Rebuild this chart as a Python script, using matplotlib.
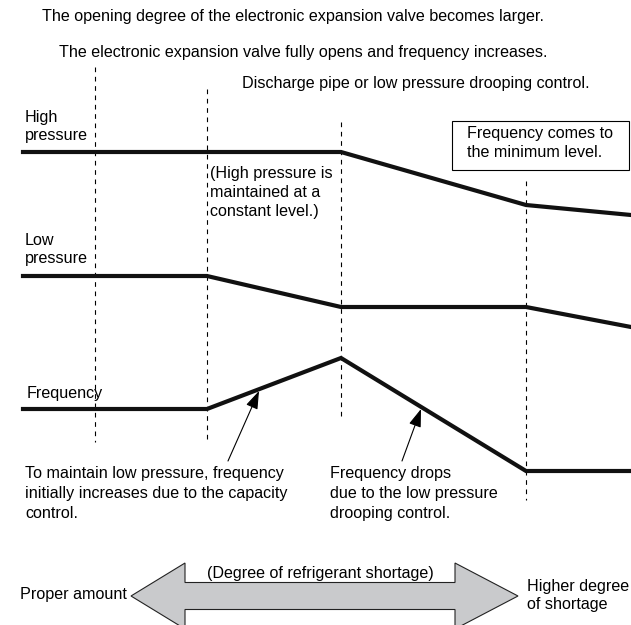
import numpy as np
import matplotlib.pyplot as plt
import matplotlib.patches as mpatches

plt.rcParams['font.family'] = ['Liberation Sans', 'DejaVu Sans']

# pixel-space layout of the original diagram (y grows downward)
stage_x = [95, 207, 341, 526]
stage_top = [67, 89, 122, 181]
stage_bottom = [442, 440, 418, 500]

high_x = [23, 341, 526, 631]
high_y = [152, 152, 205, 215]
low_x = [23, 207, 341, 526, 631]
low_y = [276, 276, 307, 307, 327]
freq_x = [23, 207, 341, 526, 631]
freq_y = [409, 409, 358, 471, 471]

headers = [
    "The opening degree of the electronic expansion valve becomes larger.",
    "The electronic expansion valve fully opens and frequency increases.",
    "Discharge pipe or low pressure drooping control.",
]
header_x = [42, 59, 242]
header_y = [21, 57, 88]

fs = 11.6
gap = 19


def lines(ax, x, y, text, dy=gap, **kw):
    # place multi-line text by baseline, one row at a time
    for i, row in enumerate(text.split("\n")):
        ax.text(x, y + i * dy, row, fontsize=fs, va='baseline', **kw)


fig = plt.figure(figsize=(6.31, 6.25), dpi=100)
ax = fig.add_axes([0, 0, 1, 1])
ax.set_xlim(0, 631)
ax.set_ylim(625, 0)
ax.axis('off')

for t, x, y in zip(headers, header_x, header_y):
    lines(ax, x, y, t)

for x, t, b in zip(stage_x, stage_top, stage_bottom):
    ax.plot([x, x], [t, b], color='black', lw=0.8, ls=(0, (4.2, 4.2)))

for xs, ys in [(high_x, high_y), (low_x, low_y), (freq_x, freq_y)]:
    ax.plot(xs, ys, color='#111111', lw=3, solid_joinstyle='miter')

lines(ax, 25, 122, "High\npressure", dy=18)
lines(ax, 25, 245, "Low\npressure", dy=18)
lines(ax, 27, 398, "Frequency")
lines(ax, 210, 178, "(High pressure is\nmaintained at a\nconstant level.)", dy=19)

ax.add_patch(mpatches.Rectangle((452, 121), 177, 49, fc='white', ec='black', lw=0.8))
lines(ax, 467, 138, "Frequency comes to\nthe minimum level.", dy=19)

lines(ax, 25, 478, "To maintain low pressure, frequency\ninitially increases due to the capacity\ncontrol.", dy=20)
lines(ax, 330, 478, "Frequency drops\ndue to the low pressure\ndrooping control.", dy=20)

arrow_props = dict(arrowstyle='-|>,head_length=1.1,head_width=0.38', color='black',
                   lw=0.8, shrinkA=0, shrinkB=0)
ax.annotate("", xy=(259, 391), xytext=(228, 461), arrowprops=arrow_props)
ax.annotate("", xy=(421, 409), xytext=(402, 461), arrowprops=arrow_props)

# double arrow for degree of refrigerant shortage
cy = 596
left_tip, right_tip = 131, 518
left_base, right_base = 185, 455
shaft_h, head_h = 13.5, 33
pts = [
    (left_tip, cy), (left_base, cy - head_h), (left_base, cy - shaft_h),
    (right_base, cy - shaft_h), (right_base, cy - head_h), (right_tip, cy),
    (right_base, cy + head_h), (right_base, cy + shaft_h),
    (left_base, cy + shaft_h), (left_base, cy + head_h),
]
ax.add_patch(mpatches.Polygon(pts, closed=True, fc='#c9cacc', ec='#222222', lw=0.8))
lines(ax, 207, 578, "(Degree of refrigerant shortage)")
lines(ax, 127, 599, "Proper amount", ha='right')
lines(ax, 527, 591, "Higher degree\nof shortage", dy=18)

fig.savefig('out.png', dpi=100)
